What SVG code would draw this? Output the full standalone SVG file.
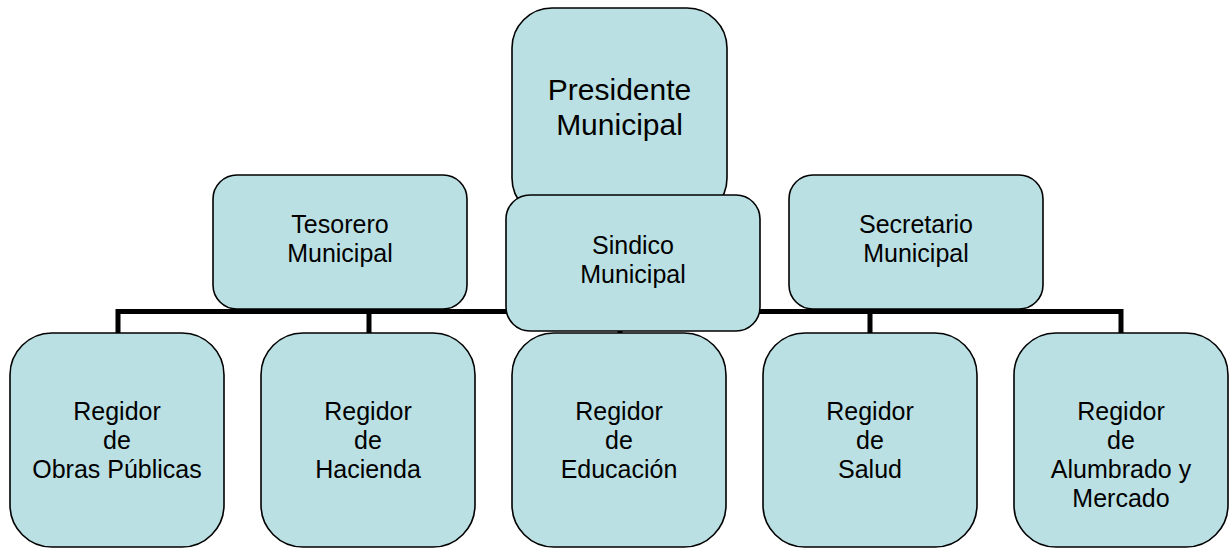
<svg xmlns="http://www.w3.org/2000/svg" width="1232" height="548" viewBox="0 0 1232 548">
<style>
.box{fill:#BBE0E3;stroke:#000;stroke-width:1.6}
.t{font-family:"Liberation Sans",Arial,sans-serif;font-size:25px;fill:#000;text-anchor:middle}
.big{font-size:30px}
.conn{fill:none;stroke:#000;stroke-width:5}
</style>
<rect width="1232" height="548" fill="#fff"/>
<g id="presidente">
<rect class="box" x="512" y="8" width="215" height="210" rx="40" ry="40"/>
<text class="t big" x="619.5" y="100">Presidente</text>
<text class="t big" x="619.5" y="135">Municipal</text>
</g>
<g id="tesorero">
<rect class="box" x="213" y="175" width="254" height="134" rx="24" ry="24"/>
<text class="t" x="340" y="233">Tesorero</text>
<text class="t" x="340" y="262">Municipal</text>
</g>
<g id="secretario">
<rect class="box" x="789" y="175" width="254" height="134" rx="24" ry="24"/>
<text class="t" x="916" y="233">Secretario</text>
<text class="t" x="916" y="262">Municipal</text>
</g>
<g id="connectors">
<path class="conn" d="M118 333 V311.5 H1121 V333 M369 311.5 V333 M620 311.5 V333 M870 311.5 V333"/>
</g>
<g id="sindico">
<rect class="box" x="506" y="195" width="254" height="136" rx="24" ry="24"/>
<text class="t" x="633" y="254">Sindico</text>
<text class="t" x="633" y="283">Municipal</text>
</g>
<g id="obras">
<rect class="box" x="10" y="333" width="214" height="214" rx="42" ry="42"/>
<text class="t" x="117" y="420">Regidor</text>
<text class="t" x="117" y="449">de</text>
<text class="t" x="117" y="478">Obras Públicas</text>
</g>
<g id="hacienda">
<rect class="box" x="261" y="333" width="214" height="214" rx="42" ry="42"/>
<text class="t" x="368" y="420">Regidor</text>
<text class="t" x="368" y="449">de</text>
<text class="t" x="368" y="478">Hacienda</text>
</g>
<g id="educacion">
<rect class="box" x="512" y="333" width="214" height="214" rx="42" ry="42"/>
<text class="t" x="619" y="420">Regidor</text>
<text class="t" x="619" y="449">de</text>
<text class="t" x="619" y="478">Educación</text>
</g>
<g id="salud">
<rect class="box" x="763" y="333" width="214" height="214" rx="42" ry="42"/>
<text class="t" x="870" y="420">Regidor</text>
<text class="t" x="870" y="449">de</text>
<text class="t" x="870" y="478">Salud</text>
</g>
<g id="alumbrado">
<rect class="box" x="1014" y="333" width="214" height="214" rx="42" ry="42"/>
<text class="t" x="1121" y="420">Regidor</text>
<text class="t" x="1121" y="449">de</text>
<text class="t" x="1121" y="478">Alumbrado y</text>
<text class="t" x="1121" y="507">Mercado</text>
</g>
</svg>
